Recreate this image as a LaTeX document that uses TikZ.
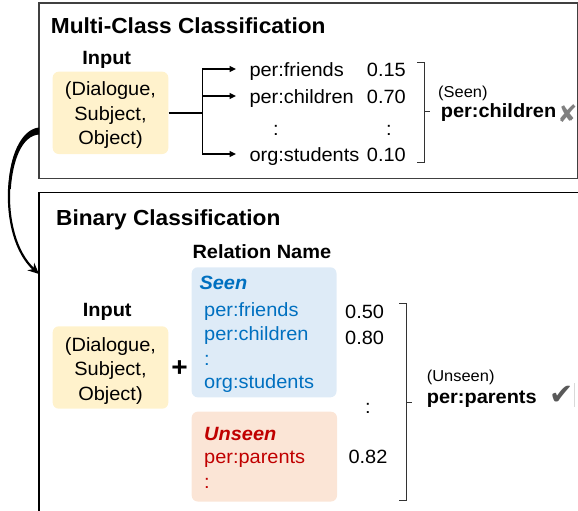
\documentclass[tikz,border=0pt]{standalone}
\usepackage{fontspec}
\setmainfont{Liberation Sans}[FakeStretch=1.04]
\newfontfamily\symfont{DejaVu Sans}
\usetikzlibrary{arrows.meta}
\definecolor{inyellow}{HTML}{FFF2CC}
\definecolor{seenfill}{HTML}{DEEBF7}
\definecolor{unseenfill}{HTML}{FBE5D6}
\definecolor{seenblue}{HTML}{0070C0}
\definecolor{unseenred}{HTML}{C00000}
\definecolor{framegray}{HTML}{404040}
\definecolor{markgray}{HTML}{808080}
\definecolor{checkgray}{HTML}{595959}
\newcommand\bodyf{\fontsize{19.2}{24.5}\selectfont}
\newcommand\titlef{\fontsize{21.8}{25}\selectfont\bfseries}
\newcommand\smallf{\fontsize{15.8}{18}\selectfont}
\tikzset{
  lbl/.style={inner sep=0pt, anchor=base west, font=\bodyf},
  lblb/.style={lbl, font=\bodyf\bfseries},
  dotlbl/.style={inner sep=0pt, anchor=base, font=\bodyf},
  ttl/.style={inner sep=0pt, anchor=base west, font=\titlef},
  hdr/.style={inner sep=0pt, anchor=base, font=\bodyf\bfseries},
  smalllbl/.style={inner sep=0pt, anchor=base west, font=\smallf},
  inbox/.style={fill=inyellow, rounded corners=6pt, minimum width=115.6pt, minimum height=82.3pt, inner sep=0pt},
  intext/.style={inner sep=0pt, align=center, font=\bodyf},
  seenbox/.style={fill=seenfill, rounded corners=6pt, minimum width=144.8pt, minimum height=130pt, inner sep=0pt},
  unseenbox/.style={fill=unseenfill, rounded corners=6pt, minimum width=145.3pt, minimum height=89.8pt, inner sep=0pt},
  conn/.style={line width=1.5pt},
  branch/.style={conn, -{Triangle[length=6.5pt,width=6pt]}},
  brk/.style={line width=1pt, draw=black!80},
  curvearrow/.style={line width=2.2pt, -{Stealth[length=11pt,width=10pt]}},
  frametop/.style={line width=1.5pt, draw=framegray},
  framebot/.style={line width=1.5pt, draw=black},
  markx/.style={inner sep=0pt, font=\symfont\fontsize{24}{24}\selectfont, text=markgray},
  markck/.style={inner sep=0pt, font=\symfont\fontsize{29}{29}\selectfont, text=checkgray},
}
\begin{document}
\begin{tikzpicture}[x=1pt,y=-1pt]
\useasboundingbox (0,0) rectangle (578,511);
\clip (0,0) rectangle (578,511);

% ---------- frames ----------
\draw[frametop] (39,3) rectangle (577.5,178.3);
\draw[framebot] (39,540) -- (39,192.7) -- (590,192.7);

% ---------- curved arrow between frames ----------
\coordinate (arrS) at (39,131);
\coordinate (arrE) at (39,274);
\fill (39,127.5) .. controls (21,129.3) and (8.8,157) .. (8.7,189)
   -- (10.8,189) .. controls (12.7,160) and (22,135.7) .. (39,134.5) -- cycle;
\draw[curvearrow] (arrS) .. controls (4,134) and (-4,235) .. (arrE);

% ---------- Multi-class part ----------
\node[ttl] (t1) at (50.7,33.3) {Multi-Class Classification};
\node[hdr] (inp1) at (106.7,64) {Input};
\node[inbox] (in1) at (110.5,112.85) {};
\node[intext] (in1t) at ([yshift=-2.5pt]in1.center) {(Dialogue,\\Subject,\\Object)};

\coordinate (split) at (202.3,112.85);
\coordinate (a1) at (236,69);
\coordinate (a2) at (236,96);
\coordinate (a4) at (236,154);
\draw[conn] (in1.east) -- (split);
\draw[branch] (split) |- (a1);
\draw[branch] (split) |- (a2);
\draw[branch] (split) |- (a4);

\node[lbl] (r1) at (249.3,76.7) {per:friends};
\node[lbl] (r2) at (249.3,103.3) {per:children};
\node[dotlbl] (r3) at (276,135) {:};
\node[lbl] (r4) at (249.3,161.7) {org:students};
\node[lbl] (p1) at (366.7,76.7) {0.15};
\node[lbl] (p2) at (366.7,103.3) {0.70};
\node[dotlbl] (p3) at (389,135) {:};
\node[lbl] (p4) at (366.7,161.7) {0.10};

\draw[brk] (417,62.7) -- (424,62.7) -- (424,162.7) -- (417,162.7);
\draw[brk] (424,111.7) -- (430,111.7);

\node[smalllbl] (seen1) at (438,97) {(Seen)};
\node[lblb] (ans1) at (440.7,117.5) {per:children};
\node[markx] (x1) at (567.5,113.5) {✘};

% ---------- Binary part ----------
\node[ttl] (t2) at (56,225) {Binary Classification};
\node[hdr] (inp2) at (107.2,316.7) {Input};
\node[inbox] (in2) at (110.5,367.5) {};
\node[intext] (in2t) at ([yshift=-3.5pt]in2.center) {(Dialogue,\\Subject,\\Object)};
\node[inner sep=0pt, font=\fontsize{27}{27}\selectfont\bfseries] (plus) at (179.5,369) {+};

\node[lblb] (rn) at (192.3,258.3) {Relation Name};
\node[seenbox] (sb) at (264.1,332.3) {};
\node[unseenbox] (ub) at (264.35,456.6) {};

\node[lblb, font=\bodyf\bfseries\itshape, text=seenblue] (sh) at (199.3,289) {Seen};
\node[lbl, text=seenblue] (s1) at (204,316.5) {per:friends};
\node[lbl, text=seenblue] (s2) at (204,340) {per:children};
\node[lbl, text=seenblue] (s3) at (204,365) {:};
\node[lbl, text=seenblue] (s4) at (204,388.3) {org:students};

\node[lblb, font=\bodyf\bfseries\itshape, text=unseenred] (uh) at (204,440) {Unseen};
\node[lbl, text=unseenred] (u1) at (204,463.3) {per:parents};
\node[lbl, text=unseenred] (u2) at (204,488) {:};

\node[lbl] (q1) at (345,318.3) {0.50};
\node[lbl] (q2) at (345,344) {0.80};
\node[dotlbl] (q3) at (368,413.5) {:};
\node[lbl] (q4) at (348.3,463.3) {0.82};

\draw[brk] (399,303.3) -- (406.5,303.3) -- (406.5,500.5) -- (399,500.5);
\draw[brk] (406.5,402.5) -- (412,402.5);

\node[smalllbl] (uns) at (426.7,381.7) {(Unseen)};
\node[lblb] (ans2) at (426.7,403.3) {per:parents};
\node[markck] (ck) at (561.5,395) {✔};
\draw[black!15, line width=0.8pt] (574.3,383) -- (574.3,406.7);
\end{tikzpicture}
\end{document}
